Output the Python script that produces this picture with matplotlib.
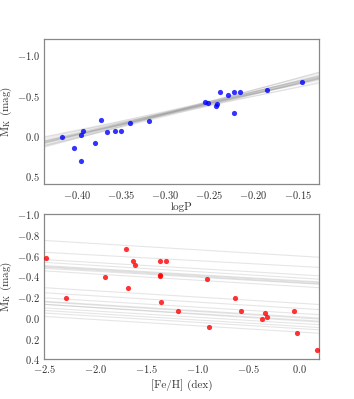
import numpy as np
import matplotlib
matplotlib.use("Agg")
import matplotlib.pyplot as plt

plt.rcParams["font.family"] = "serif"
plt.rcParams["font.serif"] = ["cmr10"]
plt.rcParams["mathtext.fontset"] = "cm"
plt.rcParams["axes.formatter.use_mathtext"] = True

# star data
logP = [-0.417, -0.4026, -0.3955, -0.3951, -0.3925, -0.3796, -0.3728, -0.366,
        -0.3566, -0.3495, -0.3397, -0.3186, -0.2545, -0.2511, -0.2420, -0.2409,
        -0.2382, -0.2288, -0.2220, -0.2216, -0.2152, -0.1851, -0.1455]
MK_p = [0.008, 0.146, 0.308, -0.012, -0.067, 0.083, -0.196, -0.054,
        -0.067, -0.067, -0.158, -0.192, -0.421, -0.408, -0.375, -0.396,
        -0.55, -0.508, -0.2875, -0.55, -0.55, -0.575, -0.667]

feh = [-2.480, -2.291, -1.904, -1.695, -1.675, -1.626, -1.613, -1.368, -1.368,
       -1.365, -1.358, -1.306, -1.188, -0.900, -0.880, -0.632, -0.573, -0.360,
       -0.330, -0.311, -0.052, -0.023, 0.173]
MK_f = [-0.573, -0.192, -0.394, -0.665, -0.284, -0.547, -0.505, -0.547, -0.414,
        -0.405, -0.153, -0.547, -0.062, -0.375, 0.091, -0.186, -0.062, 0.009,
        -0.049, -0.010, -0.062, 0.149, 0.312]

# sampled fits: M = a + b*x
p_slope = [-2.15, -2.25, -2.35, -2.42, -2.48, -2.52, -2.55, -2.57, -2.58, -2.60,
           -2.62, -2.65, -2.68, -2.72, -2.78, -2.85, -2.92, -3.00, -2.45, -2.70]
p_icpt = [-0.924, -0.973, -0.962, -1.012, -1.019, -1.021, -1.050, -1.045, -1.068, -1.044,
          -1.060, -1.079, -1.057, -1.089, -1.126, -1.117, -1.157, -1.170, -1.041, -1.053]

f_slope = [0.060, 0.054, 0.058, 0.060, 0.058, 0.057, 0.060, 0.058, 0.059,
           0.060, 0.060, 0.060, 0.060, 0.063, 0.060, 0.061, 0.060, 0.060, 0.061, 0.060]
f_icpt = [-0.595, -0.496, -0.416, -0.384, -0.358, -0.334, -0.302, -0.350, -0.340,
          -0.140, -0.091, -0.042, -0.009, 0.029, 0.055, 0.082, 0.104, 0.137, 0.000, 0.020]

fig = plt.figure(figsize=(3.54, 3.99), dpi=100)
ax1 = fig.add_axes([0.125, 0.538, 0.777, 0.3634])
ax2 = fig.add_axes([0.125, 0.0995, 0.777, 0.3642])

def style(ax):
    for s in ax.spines.values():
        s.set_color("#888888")
        s.set_linewidth(0.9)
    ax.tick_params(length=0, pad=3, labelsize=7.5, labelcolor="#333333")

# top panel
xlim1 = (-0.4367, -0.1256)
xx = np.array(xlim1)
for a, b in zip(p_icpt, p_slope):
    ax1.plot(xx, a + b * xx, color="gray", alpha=0.15, lw=0.8, zorder=1)
ax1.scatter(logP, MK_p, s=14, color="b", alpha=0.8, lw=0, zorder=3)
ax1.set_xlim(xlim1)
ax1.set_ylim(0.6, -1.2)
ax1.set_xticks([-0.40, -0.35, -0.30, -0.25, -0.20, -0.15])
ax1.set_xticklabels(["$-0.40$", "$-0.35$", "$-0.30$", "$-0.25$", "$-0.20$", "$-0.15$"])
ax1.set_yticks([-1.0, -0.5, 0.0, 0.5])
ax1.set_yticklabels(["$-1.0$", "$-0.5$", "$0.0$", "$0.5$"])
ax1.set_xlabel("logP", fontsize=8, labelpad=1, color="#333333")
ax1.set_ylabel(r"$\mathrm{M_K}$ (mag)", fontsize=8, labelpad=2, color="#333333")
style(ax1)

# bottom panel
xlim2 = (-2.5, 0.2)
xx = np.array(xlim2)
for a, b in zip(f_icpt, f_slope):
    ax2.plot(xx, a + b * xx, color="gray", alpha=0.2, lw=0.8, zorder=1)
ax2.scatter(feh, MK_f, s=14, color="r", alpha=0.8, lw=0, zorder=3)
ax2.set_xlim(xlim2)
ax2.set_ylim(0.4, -1.0)
ax2.set_xticks([-2.5, -2.0, -1.5, -1.0, -0.5, 0.0])
ax2.set_xticklabels(["$-2.5$", "$-2.0$", "$-1.5$", "$-1.0$", "$-0.5$", "$0.0$"])
ax2.set_yticks([-1.0, -0.8, -0.6, -0.4, -0.2, 0.0, 0.2, 0.4])
ax2.set_yticklabels(["$-1.0$", "$-0.8$", "$-0.6$", "$-0.4$", "$-0.2$", "$0.0$", "$0.2$", "$0.4$"])
ax2.set_xlabel("[Fe/H] (dex)", fontsize=8, labelpad=3, color="#333333")
ax2.set_ylabel(r"$\mathrm{M_K}$ (mag)", fontsize=8, labelpad=2, color="#333333")
style(ax2)

fig.savefig("out.png", dpi=100)
